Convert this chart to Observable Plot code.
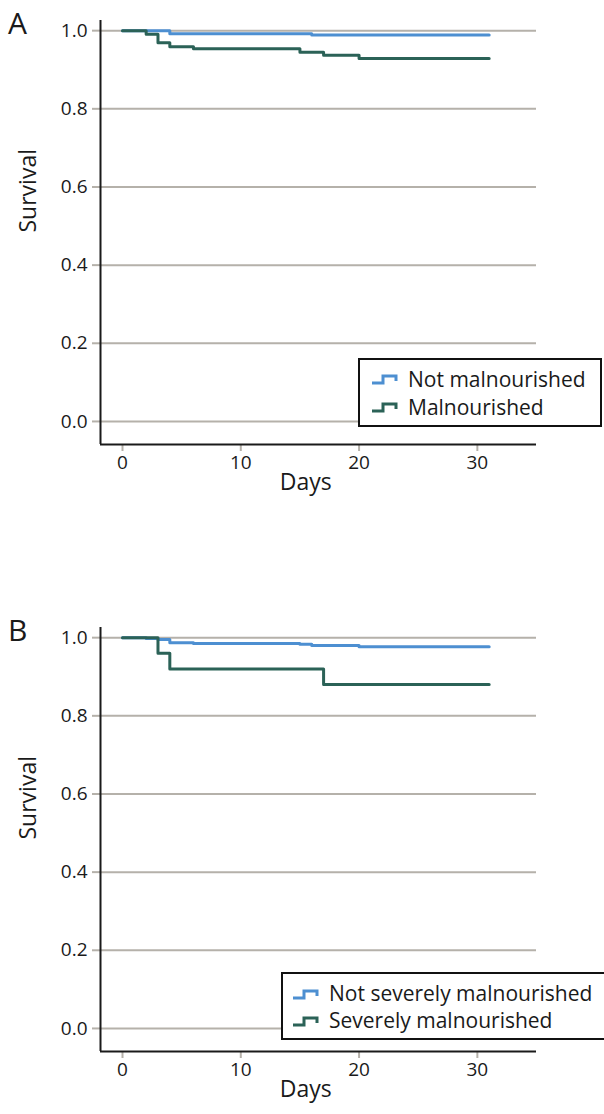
<!DOCTYPE html>
<html><head><meta charset="utf-8">
<script src="https://cdn.jsdelivr.net/npm/d3@7"></script>
<script src="https://cdn.jsdelivr.net/npm/@observablehq/plot@0.6"></script>
<style>
body{margin:0;background:#fff;font-family:"Open Sans",sans-serif;color:#1a1a1a;width:604px;height:1114px;overflow:hidden;position:relative;}
.panel{position:absolute;left:0;width:604px;height:507px;}
.letter{position:absolute;left:8px;top:8px;font-size:30px;line-height:30px;}
.legend{position:absolute;background:#fff;border:2px solid #111;box-sizing:border-box;font-size:21px;}
.item{display:flex;align-items:center;white-space:nowrap;}
.item svg{margin-right:10px;flex:none;}
</style></head>
<body>
<div id="A" class="panel" style="top:0"></div>
<div id="B" class="panel" style="top:607px"></div>
<script>
// tick values
const yTicks = [0, 0.2, 0.4, 0.6, 0.8, 1.0];
const xTicks = [0, 10, 20, 30];
const colors = ["#4d8fd1", "#2b6257"];

// Panel A
const aLabels = ["Not malnourished", "Malnourished"];
const aNotDays = [0, 4, 16, 31];
const aNotSurv = [1, 0.992, 0.989, 0.989];
const aMalDays = [0, 2, 3, 4, 6, 15, 17, 20, 31];
const aMalSurv = [1, 0.991, 0.969, 0.959, 0.954, 0.945, 0.937, 0.929, 0.929];

// Panel B
const bLabels = ["Not severely malnourished", "Severely malnourished"];
const bNotDays = [0, 2, 3, 4, 6, 15, 16, 20, 31];
const bNotSurv = [1, 0.998, 0.995, 0.987, 0.985, 0.983, 0.980, 0.977, 0.977];
const bSevDays = [0, 3, 4, 17, 31];
const bSevSurv = [1, 0.96, 0.92, 0.88, 0.88];

const xDom = [-1.86, 35];
const yDom = [-0.059, 1.026];
const grid = "#b5b1aa";
const ink = "#1a1a1a";

function makePlot(labels, series) {
  const data = series.flatMap((s, k) => s.days.map((d, i) => ({day: d, surv: s.surv[i], group: labels[k]})));
  const ext = d3.extent(data, d => d.day);
  return Plot.plot({
    width: 604, height: 507,
    marginLeft: 100, marginRight: 68, marginTop: 20, marginBottom: 63,
    style: {fontFamily: "Open Sans, sans-serif", fontSize: "19px", color: ink, background: "transparent", overflow: "visible"},
    x: {domain: xDom},
    y: {domain: yDom},
    color: {domain: labels, range: colors},
    marks: [
      Plot.ruleY(yTicks, {stroke: grid, strokeWidth: 2}),
      Plot.axisY(yTicks, {tickSize: 8, stroke: grid, strokeWidth: 2, strokeOpacity: 1, tickPadding: 5, tickFormat: d3.format(".1f"), label: null, fontSize: 19}),
      Plot.axisX(xTicks, {tickSize: 7, stroke: grid, strokeWidth: 2, strokeOpacity: 1, tickPadding: 4, label: null, fontSize: 19}),
      Plot.ruleX([xDom[0]], {stroke: ink, strokeWidth: 2}),
      Plot.ruleY([yDom[0]], {stroke: ink, strokeWidth: 2}),
      Plot.line(data, {x: "day", y: "surv", z: "group", stroke: "group", curve: "step-after", strokeWidth: 3}),
      Plot.text(["Survival"], {frameAnchor: "left", rotate: -90, dx: -72, fontSize: 23, fill: ink}),
      Plot.text([{t: "Days", x: (ext[0] + ext[1]) / 2}], {x: "x", text: "t", frameAnchor: "bottom", dy: 45, fontSize: 23, fill: ink})
    ]
  });
}

function glyph(color) {
  return `<svg width="26" height="12" viewBox="0 0 26 12"><path d="M0,10 H11 V3 H24 V8" fill="none" stroke="${color}" stroke-width="3"/></svg>`;
}

function addPanel(id, letter, labels, series, legendStyle, rowH) {
  const el = document.getElementById(id);
  el.appendChild(makePlot(labels, series));
  const L = document.createElement("div");
  L.className = "letter"; L.textContent = letter;
  el.appendChild(L);
  const lg = document.createElement("div");
  lg.className = "legend";
  Object.assign(lg.style, legendStyle);
  lg.innerHTML = labels.map((l, i) => `<div class="item" style="height:${rowH}px;line-height:${rowH}px">${glyph(colors[i])}<span>${l}</span></div>`).join("");
  el.appendChild(lg);
}

addPanel("A", "A", aLabels, [{days: aNotDays, surv: aNotSurv}, {days: aMalDays, surv: aMalSurv}],
  {left: "358px", top: "358px", width: "244px", height: "69px", padding: "5px 0 0 12px"}, 28);
addPanel("B", "B", bLabels, [{days: bNotDays, surv: bNotSurv}, {days: bSevDays, surv: bSevSurv}],
  {left: "281px", top: "365px", width: "340px", height: "68px", padding: "6px 0 0 10px"}, 27);
</script>
</body></html>
